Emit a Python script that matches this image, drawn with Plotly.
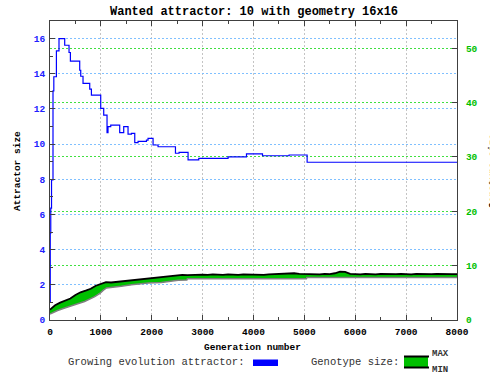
import plotly.graph_objects as go

# Attractor size of the evolved network over the generations (step series)
attr_gen = [0, 5, 15, 30, 59, 75, 126, 177, 289, 374, 401, 584, 604, 649, 781, 814,
            997, 1056, 1121, 1140, 1194, 1370, 1449, 1534, 1601, 1666, 1731, 1896,
            1927, 2026, 2124, 2466, 2537, 2714, 2924, 3500, 3862, 4177, 4700, 5054, 8000]
attr_size = [1.06, 4.94, 6.36, 7.96, 13.03, 13.83, 15.3, 16.0, 15.62, 15.21, 14.72, 14.2,
             13.86, 13.45, 13.13, 12.79, 12.03, 11.65, 10.65, 10.99, 11.08, 10.65, 10.99,
             10.57, 10.61, 10.08, 10.16, 10.23, 10.33, 9.95, 9.85, 9.48, 9.53, 9.1, 9.19,
             9.28, 9.44, 9.34, 9.38, 8.97, 8.97]

# Genotype size envelope (right axis)
geno_max_gen = list(range(0, 8001, 100))
geno_max = [1.9, 2.7, 3.2, 3.6, 3.95, 4.6, 5.1, 5.4, 5.75, 6.3,
            6.7, 6.95, 6.9, 7.0, 7.1, 7.25, 7.3, 7.45, 7.6, 7.7,
            7.8, 7.9, 8.0, 8.05, 8.1, 8.2, 8.3, 8.25, 8.3, 8.3,
            8.35, 8.3, 8.4, 8.35, 8.3, 8.4, 8.35, 8.3, 8.4, 8.35,
            8.4, 8.35, 8.3, 8.4, 8.45, 8.4, 8.5, 8.55, 8.6, 8.5,
            8.45, 8.4, 8.45, 8.4, 8.5, 8.45, 8.6, 8.9, 8.85, 8.5,
            8.45, 8.4, 8.5, 8.45, 8.4, 8.5, 8.45, 8.4, 8.45, 8.5,
            8.45, 8.4, 8.5, 8.45, 8.4, 8.45, 8.5, 8.45, 8.4, 8.45, 8.45]
geno_min_gen = [0, 150, 290, 490, 680, 880, 980, 1050, 1110, 1400, 1600, 1930, 2190,
                2520, 2690, 2700, 5040, 5050, 8000]
geno_min = [1.1, 1.75, 2.2, 2.8, 3.4, 4.3, 4.9, 5.5, 5.9, 6.2, 6.5, 6.8, 6.9,
            7.3, 7.35, 7.6, 7.6, 7.8, 7.8]

x_ticks = list(range(0, 8001, 1000))
y_ticks = list(range(0, 17, 2))
y2_ticks = list(range(0, 51, 10))

MONO = "Liberation Mono"
PLOT_L, PLOT_R, PLOT_T, PLOT_B = 50, 457, 21, 320


def px(xp):
    return (xp - PLOT_L) / (PLOT_R - PLOT_L)


def py(yp):
    return (PLOT_B - yp) / (PLOT_B - PLOT_T)


fig = go.Figure()

# green band between min and max genotype size
band_x = geno_max_gen + geno_min_gen[::-1]
band_y = geno_max + geno_min[::-1]
fig.add_trace(go.Scatter(x=band_x, y=band_y, yaxis="y2", fill="toself",
                         fillcolor="#00c000", line=dict(width=0),
                         mode="lines", hoverinfo="skip"))
fig.add_trace(go.Scatter(x=geno_min_gen, y=geno_min, yaxis="y2", mode="lines",
                         line=dict(color="#808080", width=1.5)))
fig.add_trace(go.Scatter(x=geno_max_gen, y=geno_max, yaxis="y2", mode="lines",
                         line=dict(color="#000000", width=1.8)))

# attractor size
fig.add_trace(go.Scatter(x=attr_gen, y=attr_size, mode="lines", line_shape="hv",
                         line=dict(color="#0000ff", width=1.2)))

axis_line = "#404040"
fig.update_layout(
    width=490, height=375,
    margin=dict(l=PLOT_L, r=490 - PLOT_R, t=PLOT_T, b=375 - PLOT_B),
    paper_bgcolor="white", plot_bgcolor="white",
    showlegend=False,
    xaxis=dict(range=[0, 8000], tickvals=x_ticks, ticks="inside", ticklen=5,
               tickcolor=axis_line, minor=dict(dtick=500, ticks="inside", ticklen=3,
                                               tickcolor=axis_line),
               showgrid=True, gridcolor="#c4c4c4", griddash="2px,2px", gridwidth=1,
               showline=True, linecolor=axis_line, linewidth=1, mirror="ticks",
               zeroline=False, ticklabelstandoff=3,
               tickfont=dict(family=MONO, size=9.5, color="black", weight="bold")),
    yaxis=dict(range=[0, 17], tickvals=y_ticks, ticks="inside", ticklen=5,
               tickcolor=axis_line, minor=dict(dtick=1, ticks="inside", ticklen=3,
                                               tickcolor=axis_line),
               showgrid=True, gridcolor="#80c0ff", griddash="2px,2px", gridwidth=1,
               showline=True, linecolor=axis_line, linewidth=1, zeroline=False,
               ticklabelstandoff=2,
               tickfont=dict(family=MONO, size=9.5, color="#2020ff", weight="bold")),
    yaxis2=dict(range=[0, 55], tickvals=y2_ticks, overlaying="y", side="right",
                ticks="inside", ticklen=5, tickcolor=axis_line,
                showgrid=True, gridcolor="#40e040", griddash="2px,2px", gridwidth=1,
                showline=True, linecolor=axis_line, linewidth=1, zeroline=False,
                ticklabelstandoff=6,
                tickfont=dict(family=MONO, size=9.5, color="#00c000", weight="bold")),
)

ann = []
ann.append(dict(text="Wanted attractor: 10 with geometry 16x16", x=0.5, y=py(12),
                font=dict(family=MONO, size=12, color="black", weight="bold"),
                xanchor="center", yanchor="middle"))
ann.append(dict(text="Generation number", x=px(252), y=py(347),
                font=dict(family=MONO, size=9.5, color="black", weight="bold"),
                xanchor="center", yanchor="middle"))
ann.append(dict(text="Attractor size", x=px(17), y=py(171), textangle=-90,
                font=dict(family=MONO, size=9.5, color="black", weight="bold"),
                xanchor="center", yanchor="middle"))
ann.append(dict(text="Genotype size", x=px(492), y=py(171), textangle=-90,
                font=dict(family=MONO, size=9.5, color="black", weight="bold"),
                xanchor="center", yanchor="middle"))
ann.append(dict(text="Growing evolution attractor:", x=px(66), y=py(362),
                font=dict(family=MONO, size=10.5, color="#333333"),
                xanchor="left", yanchor="middle"))
ann.append(dict(text="Genotype size:", x=px(309), y=py(362),
                font=dict(family=MONO, size=10.5, color="#333333"),
                xanchor="left", yanchor="middle"))
ann.append(dict(text="MAX", x=px(430), y=py(354),
                font=dict(family=MONO, size=9, color="#333333", weight="bold"),
                xanchor="left", yanchor="middle"))
ann.append(dict(text="MIN", x=px(430), y=py(369.5),
                font=dict(family=MONO, size=9, color="#333333", weight="bold"),
                xanchor="left", yanchor="middle"))
for a in ann:
    a.update(xref="paper", yref="paper", showarrow=False)
fig.update_layout(annotations=ann)

shapes = [
    dict(type="rect", x0=px(253), x1=px(278), y0=py(366), y1=py(359.5),
         fillcolor="#0000ff", line=dict(width=0)),
    dict(type="rect", x0=px(404), x1=px(428), y0=py(367.5), y1=py(356.5),
         fillcolor="#00c000", line=dict(width=0)),
    dict(type="line", x0=px(404), x1=px(429), y0=py(356.5), y1=py(356.5),
         line=dict(color="black", width=2)),
    dict(type="line", x0=px(404), x1=px(429), y0=py(367.5), y1=py(367.5),
         line=dict(color="black", width=2)),
]
for s in shapes:
    s.update(xref="paper", yref="paper")
fig.update_layout(shapes=shapes)

fig.write_html("out.html")
